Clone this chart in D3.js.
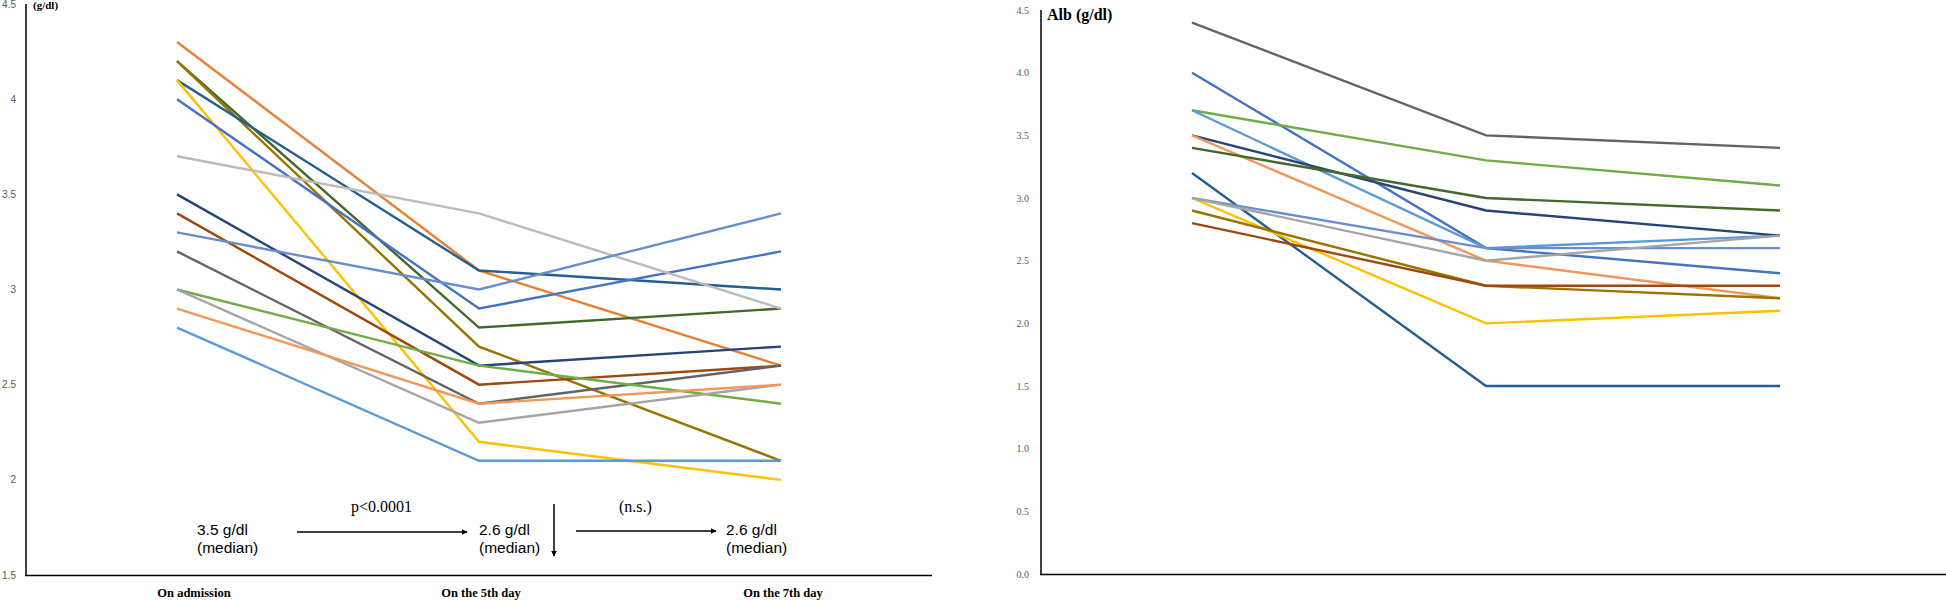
<!DOCTYPE html>
<html>
<head>
<meta charset="utf-8">
<script src="https://cdn.jsdelivr.net/npm/d3@7"></script>
<style>
  body { margin: 0; background: #fff; }
  svg { display: block; }
</style>
</head>
<body>
<div id="chart"></div>
<script>
  // time points
  var days = ["On admission", "On the 5th day", "On the 7th day"];

  // series colours (shared by both panels)
  var colors = {
    orange: "#ED7D31", darkGreen: "#43682B", olive: "#997300", steel: "#255E91",
    yellow: "#FFC000", blue: "#4472C4", lightGray: "#BBBBBB", navy: "#264478",
    brown: "#9E480E", cornflower: "#698ED0", darkGray: "#636363", green: "#70AD47",
    gray: "#A5A5A5", lightOrange: "#F1975A", lightBlue: "#5B9BD5"
  };

  // left panel: albumin per patient
  var leftSeries = ["orange", "darkGreen", "olive", "steel", "yellow", "blue", "lightGray", "navy",
                    "brown", "cornflower", "darkGray", "green", "gray", "lightOrange", "lightBlue"];
  var leftValues = [
    [4.3, 3.1, 2.6],
    [4.2, 2.8, 2.9],
    [4.2, 2.7, 2.1],
    [4.1, 3.1, 3.0],
    [4.1, 2.2, 2.0],
    [4.0, 2.9, 3.2],
    [3.7, 3.4, 2.9],
    [3.5, 2.6, 2.7],
    [3.4, 2.5, 2.6],
    [3.3, 3.0, 3.4],
    [3.2, 2.4, 2.6],
    [3.0, 2.6, 2.4],
    [3.0, 2.3, 2.5],
    [2.9, 2.4, 2.5],
    [2.8, 2.1, 2.1]
  ];
  var leftTicks = [1.5, 2, 2.5, 3, 3.5, 4, 4.5];

  // right panel
  var rightSeries = ["darkGray", "blue", "green", "lightBlue", "navy", "lightOrange", "darkGreen",
                     "steel", "cornflower", "yellow", "gray", "olive", "brown"];
  var rightValues = [
    [4.4, 3.5, 3.4],
    [4.0, 2.6, 2.4],
    [3.7, 3.3, 3.1],
    [3.7, 2.6, 2.7],
    [3.5, 2.9, 2.7],
    [3.5, 2.5, 2.2],
    [3.4, 3.0, 2.9],
    [3.2, 1.5, 1.5],
    [3.0, 2.6, 2.6],
    [3.0, 2.0, 2.1],
    [3.0, 2.5, 2.7],
    [2.9, 2.3, 2.2],
    [2.8, 2.3, 2.3]
  ];
  var rightTicks = [0, 0.5, 1, 1.5, 2, 2.5, 3, 3.5, 4, 4.5];

  var medians = ["3.5 g/dl", "2.6 g/dl", "2.6 g/dl"];

  var width = 1946, height = 600;

  var svg = d3.select("#chart").append("svg")
      .attr("width", width)
      .attr("height", height);

  svg.append("defs").append("marker")
      .attr("id", "arrow")
      .attr("viewBox", "0 0 10 10")
      .attr("refX", 9)
      .attr("refY", 5)
      .attr("markerWidth", 6)
      .attr("markerHeight", 6)
      .attr("orient", "auto")
      .attr("markerUnits", "userSpaceOnUse")
    .append("path")
      .attr("d", "M0,0L10,5L0,10z")
      .attr("fill", "#000");

  // ---------- left panel ----------
  var xL = d3.scalePoint().domain(days).range([177, 781]);
  var yL = d3.scaleLinear().domain([1.5, 4.5]).range([575, 4]);

  var left = svg.append("g");

  var lineL = d3.line()
      .x((d, i) => xL(days[i]))
      .y(d => yL(d));

  left.append("g")
    .selectAll("path")
    .data(leftValues)
    .enter().append("path")
      .attr("d", lineL)
      .attr("fill", "none")
      .attr("stroke", (d, i) => colors[leftSeries[i]])
      .attr("stroke-width", 2.4);

  left.append("g")
    .selectAll("text")
    .data(leftTicks)
    .enter().append("text")
      .attr("x", 16)
      .attr("y", d => yL(d) + 3.5)
      .attr("text-anchor", "end")
      .attr("font-family", "Liberation Sans, Arial, sans-serif")
      .attr("font-size", "10px")
      .attr("fill", "#595959")
      .text(d => d);

  left.append("line")
      .attr("x1", 26).attr("x2", 26)
      .attr("y1", 4).attr("y2", 576)
      .attr("stroke", "#000").attr("stroke-width", 1.5);
  left.append("line")
      .attr("x1", 25).attr("x2", 932)
      .attr("y1", 575.5).attr("y2", 575.5)
      .attr("stroke", "#000").attr("stroke-width", 1.5);

  left.append("text")
      .attr("x", 33).attr("y", 9)
      .attr("font-family", "Liberation Serif, Times New Roman, serif")
      .attr("font-weight", "bold")
      .attr("font-size", "11px")
      .text("(g/dl)");

  left.append("g")
    .selectAll("text")
    .data(days)
    .enter().append("text")
      .attr("x", (d, i) => xL(d) + (i === 0 ? 17 : 2))
      .attr("y", 597)
      .attr("text-anchor", "middle")
      .attr("font-family", "Liberation Serif, Times New Roman, serif")
      .attr("font-weight", "bold")
      .attr("font-size", "12.5px")
      .text(d => d);

  // median annotations
  var medianX = [197, 479, 726];
  var med = left.append("g")
      .attr("font-family", "Liberation Sans, Arial, sans-serif")
      .attr("font-size", "15.5px");
  medians.forEach(function(m, i) {
    med.append("text").attr("x", medianX[i]).attr("y", 535).text(m);
    med.append("text").attr("x", medianX[i]).attr("y", 553).text("(median)");
  });

  var arrows = [
    [297, 532, 467, 532],
    [576, 531, 716, 531],
    [554, 504, 554, 556]
  ];
  left.append("g")
    .selectAll("line")
    .data(arrows)
    .enter().append("line")
      .attr("x1", d => d[0]).attr("y1", d => d[1])
      .attr("x2", d => d[2]).attr("y2", d => d[3])
      .attr("stroke", "#000")
      .attr("stroke-width", 1.5)
      .attr("marker-end", "url(#arrow)");

  left.append("text")
      .attr("x", 351).attr("y", 512)
      .attr("font-family", "Liberation Serif, Times New Roman, serif")
      .attr("font-size", "16px")
      .text("p<0.0001");
  left.append("text")
      .attr("x", 619).attr("y", 512)
      .attr("font-family", "Liberation Serif, Times New Roman, serif")
      .attr("font-size", "16px")
      .text("(n.s.)");

  // ---------- right panel ----------
  var xR = d3.scalePoint().domain(days).range([1192, 1780]);
  var yR = d3.scaleLinear().domain([0, 4.5]).range([574, 10]);

  var right = svg.append("g");

  var lineR = d3.line()
      .x((d, i) => xR(days[i]))
      .y(d => yR(d));

  right.append("g")
    .selectAll("path")
    .data(rightValues)
    .enter().append("path")
      .attr("d", lineR)
      .attr("fill", "none")
      .attr("stroke", (d, i) => colors[rightSeries[i]])
      .attr("stroke-width", 2.4);

  right.append("g")
    .selectAll("text")
    .data(rightTicks)
    .enter().append("text")
      .attr("x", 1029)
      .attr("y", d => yR(d) + 3.5)
      .attr("text-anchor", "end")
      .attr("font-family", "Liberation Serif, Times New Roman, serif")
      .attr("font-size", "10px")
      .attr("fill", "#595959")
      .text(d => d3.format(".1f")(d));

  right.append("line")
      .attr("x1", 1041).attr("x2", 1041)
      .attr("y1", 10).attr("y2", 575)
      .attr("stroke", "#000").attr("stroke-width", 1.5);
  right.append("line")
      .attr("x1", 1040).attr("x2", 1946)
      .attr("y1", 574.5).attr("y2", 574.5)
      .attr("stroke", "#000").attr("stroke-width", 1.5);

  right.append("text")
      .attr("x", 1047).attr("y", 20)
      .attr("font-family", "Liberation Serif, Times New Roman, serif")
      .attr("font-weight", "bold")
      .attr("font-size", "16px")
      .text("Alb (g/dl)");
</script>
</body>
</html>
